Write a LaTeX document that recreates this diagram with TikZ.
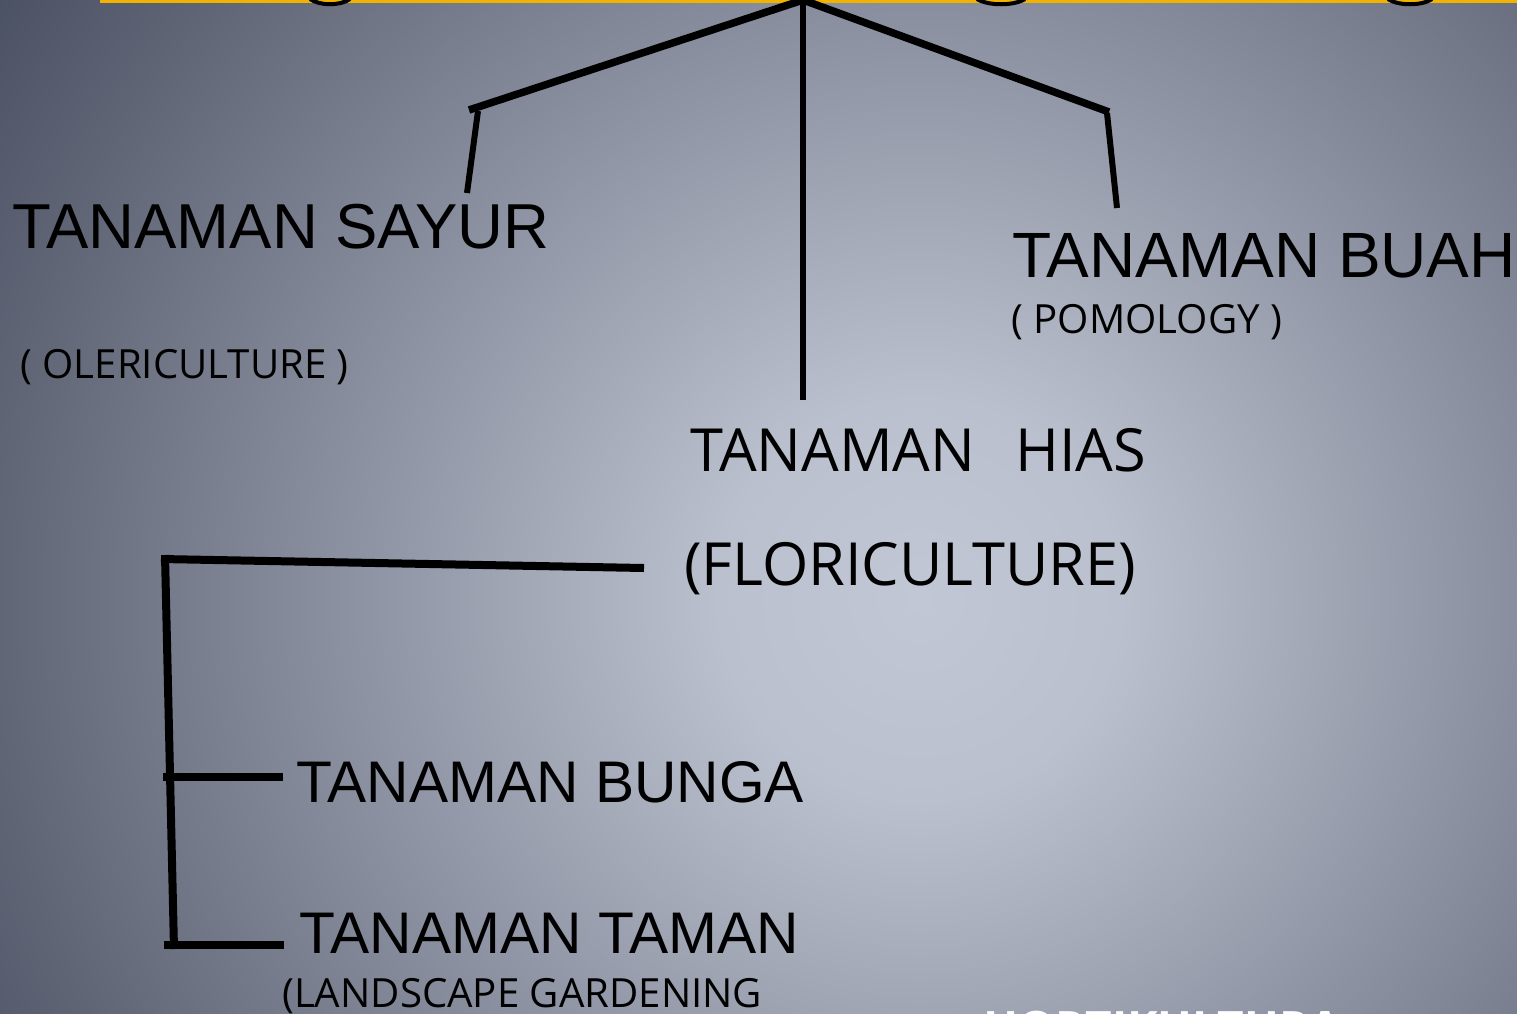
\documentclass[tikz,border=0pt]{standalone}
\usepackage{fontspec}
\newfontfamily\arialf{Liberation Sans}
\newfontfamily\humf{Open Sans}
\definecolor{bgA}{HTML}{C2C7D5}
\definecolor{bgB}{HTML}{BBC0CE}
\definecolor{bgC}{HTML}{A2A7B6}
\definecolor{bgD}{HTML}{8A90A0}
\definecolor{bgE}{HTML}{7E8494}
\definecolor{bgF}{HTML}{5F6575}
\definecolor{bgG}{HTML}{4B5264}
\definecolor{barY}{HTML}{F2B300}
\pgfdeclareradialshading{bgshade}{\pgfpoint{0bp}{0bp}}{color(0bp)=(bgA); color(4.35bp)=(bgB); color(8.7bp)=(bgC); color(12.7bp)=(bgD); color(14.8bp)=(bgE); color(20.2bp)=(bgF); color(23.9bp)=(bgG); color(50bp)=(bgG)}
\tikzset{
  bigtxt/.style={anchor=base west, inner sep=0pt, font=\arialf\fontsize{63.5}{70}\selectfont},
  buahtxt/.style={anchor=base west, inner sep=0pt, font=\arialf\fontsize{64}{70}\selectfont},
  midtxt/.style={anchor=base west, inner sep=0pt, font=\arialf\fontsize{58.7}{66}\selectfont},
  humbig/.style={anchor=base west, inner sep=0pt, font=\humf\fontsize{59.5}{66}\selectfont},
  humsmall/.style={anchor=base west, inner sep=0pt, font=\humf\fontsize{40.2}{46}\selectfont},
  arm/.style={line width=7.5pt, line cap=butt},
  stem/.style={line width=6pt},
  tree/.style={line width=8pt},
}
\begin{document}
\begin{tikzpicture}[x=1pt, y=-1pt]
\useasboundingbox (0,0) rectangle (1517,1013);
\clip (0,0) rectangle (1517,1013);
% background
\fill[bgG] (0,0) rectangle (1517,1013);
\shade[shading=bgshade] (920,600) circle (1150pt);
% top yellow bar with glimpses of cut-off title
\fill[barY] (100,-2) rectangle (1517,3);
\draw[line width=4pt] (310,-1) .. controls (320,6) and (340,6) .. (350,-1);
\draw[line width=4pt] (977,-1) .. controls (988,6) and (1014,6) .. (1025,-1);
\draw[line width=4pt] (1388,-1) .. controls (1398,6) and (1422,6) .. (1432,-1);

% coordinates of the connectors
\coordinate (top) at (803,0);
\coordinate (la) at (469,110);
\coordinate (lb) at (478,111);
\coordinate (lc) at (467,193);
\coordinate (cm) at (803,400);
\coordinate (ra) at (1109,112);
\coordinate (rb) at (1107,113);
\coordinate (rc) at (1117,208);
\coordinate (fa) at (644,568);
\coordinate (fb) at (161,559);
\coordinate (fc) at (165,555);
\coordinate (fd) at (174,949);
\coordinate (ba) at (163,777);
\coordinate (bb) at (283,777);
\coordinate (ta) at (164,945);
\coordinate (tb) at (284,945);

% texts
\node[bigtxt] (sayur) at (12,248) {TANAMAN SAYUR};
\node[humsmall] (oleri) at (20,378) {( OLERICULTURE )};
\node[buahtxt] (buah) at (1012,277) {TANAMAN BUAH};
\node[humsmall] (pomo) at (1011,333) {( POMOLOGY )};
\node[humbig] (hias) at (690,471) {TANAMAN\ \ \hspace{9pt}HIAS};
\node[humbig] (flori) at (684,585) {(FLORICULTURE)};
\node[midtxt] (bunga) at (296,802) {TANAMAN BUNGA};
\node[midtxt] (taman) at (299,953) {TANAMAN TAMAN};
\node[humsmall] (land) at (282,1007) {(LANDSCAPE GARDENING};
\node[anchor=base west, inner sep=0pt, text=white, font=\humf\bfseries\fontsize{46}{52}\selectfont] (horti) at (983,1044) {HORTIKULTURA};

% connectors
\draw[arm] (top) -- (la);
\draw[stem] (lb) -- (lc);
\draw[stem] (top) -- (cm);
\draw[arm] (top) -- (ra);
\draw[stem] (rb) -- (rc);
\draw[tree] (fa) -- (fb);
\draw[tree] (fc) -- (fd);
\draw[tree] (ba) -- (bb);
\draw[tree] (ta) -- (tb);
\end{tikzpicture}
\end{document}
